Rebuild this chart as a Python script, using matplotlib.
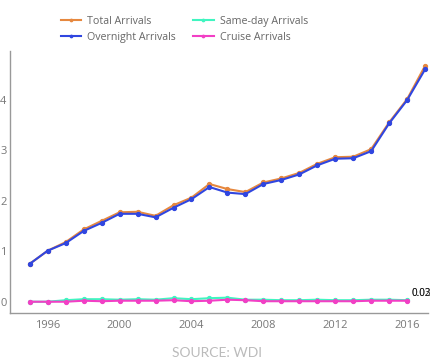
import matplotlib
matplotlib.use('Agg')
import matplotlib.pyplot as plt
import numpy as np

plt.rcParams['font.family'] = ['Open Sans', 'DejaVu Sans']

years = list(range(1995, 2018))
total_arrivals = [0.75, 1.01, 1.18, 1.43, 1.60, 1.77, 1.78, 1.70, 1.91, 2.06, 2.33,
                  2.23, 2.17, 2.36, 2.44, 2.55, 2.73, 2.86, 2.87, 3.02, 3.55, 4.01, 4.67]
overnight_arrivals = [0.75, 1.01, 1.16, 1.40, 1.56, 1.74, 1.74, 1.67, 1.86, 2.03, 2.27,
                      2.16, 2.13, 2.33, 2.41, 2.52, 2.70, 2.83, 2.84, 2.98, 3.53, 3.99, 4.60]
short_years = list(range(1995, 2017))
sameday_arrivals = [0.00, 0.00, 0.03, 0.05, 0.05, 0.04, 0.05, 0.04, 0.07, 0.05, 0.07,
                    0.08, 0.04, 0.04, 0.03, 0.03, 0.04, 0.03, 0.03, 0.04, 0.04, 0.03]
cruise_arrivals = [0.00, 0.00, 0.00, 0.02, 0.01, 0.02, 0.02, 0.02, 0.03, 0.01, 0.02,
                   0.04, 0.03, 0.01, 0.01, 0.01, 0.01, 0.01, 0.01, 0.02, 0.02, 0.02]

colors = ['#e6883f', '#3046e0', '#40f5c0', '#f23fc5']

fig = plt.figure(figsize=(4.33, 3.6), dpi=100)
ax = fig.add_axes([0.023, 0.131, 0.965, 0.727])

ax.plot(years, total_arrivals, color=colors[0], lw=1.5, marker='o', ms=2.8, label='Total Arrivals')
ax.plot(short_years, sameday_arrivals, color=colors[2], lw=1.5, marker='o', ms=2.8, label='Same-day Arrivals')
ax.plot(years, overnight_arrivals, color=colors[1], lw=1.5, marker='o', ms=2.8, label='Overnight Arrivals')
ax.plot(short_years, cruise_arrivals, color=colors[3], lw=1.5, marker='o', ms=2.8, label='Cruise Arrivals')

# end labels for the small series
ax.annotate(f'{sameday_arrivals[-1]:.2f}', xy=(short_years[-1], sameday_arrivals[-1]),
            xytext=(3, 1), textcoords='offset points', fontsize=7, color='#222222', va='bottom')
ax.annotate(f'{cruise_arrivals[-1]:.2f}', xy=(short_years[-1], cruise_arrivals[-1]),
            xytext=(3, 1), textcoords='offset points', fontsize=7, color='#222222', va='bottom')

ax.set_xlim(1993.9, 2017.15)
ax.set_ylim(-0.22, 4.96)
ax.set_xticks([1996, 2000, 2004, 2008, 2012, 2016])
ax.set_yticks([0, 1, 2, 3, 4])
ax.tick_params(length=0, labelsize=8, labelcolor='#777777')
ax.tick_params(axis='y', pad=2.5)
ax.tick_params(axis='x', pad=5)
for s in ['top', 'right']:
    ax.spines[s].set_visible(False)
for s in ['left', 'bottom']:
    ax.spines[s].set_color('#999999')
    ax.spines[s].set_linewidth(1)

handles, labels = ax.get_legend_handles_labels()
order = [0, 2, 1, 3]
fig.legend([handles[i] for i in order], [labels[i] for i in order],
           ncol=2, loc='upper left', bbox_to_anchor=(0.118, 0.983), frameon=False,
           fontsize=7.7, labelcolor='#666666', handlelength=1.9, handletextpad=0.6,
           columnspacing=1.6, labelspacing=0.5, markerscale=0.6)

fig.text(0.5, 0.004, 'SOURCE: WDI', ha='center', va='bottom', fontsize=10,
         color='#bbbbbb', family='Lato')

fig.savefig('out.png', dpi=100)
